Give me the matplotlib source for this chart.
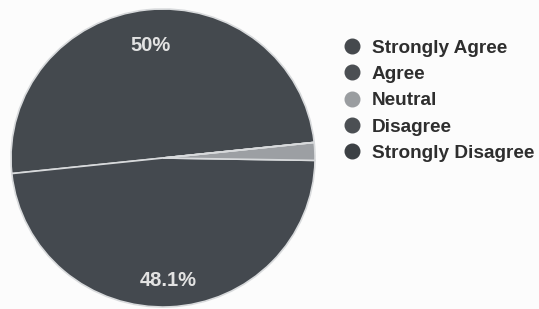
import matplotlib.pyplot as plt
import matplotlib.transforms as mtransforms
from matplotlib.lines import Line2D

# ---------------------------------------------------------
# Data: survey responses (counts)
# ---------------------------------------------------------
categories = ["Strongly Agree", "Agree", "Neutral", "Disagree", "Strongly Disagree"]
counts = [26, 25, 1, 0, 0]
slice_colors = ["#44494e", "#44494f", "#9c9fa3", "#4a4e52", "#3a3e42"]
legend_colors = ["#45494d", "#4b4f53", "#9a9da0", "#4b4f53", "#3c4044"]

plt.rcParams["font.family"] = ["Liberation Sans", "DejaVu Sans"]

W, H = 539, 309
fig = plt.figure(figsize=(W / 100, H / 100), dpi=100, facecolor="#fcfcfc")

# pie centre ~ (163, 158) px, radii ~ 152 x 149 px (scan is slightly squashed)
cx, cy, rx, ry = 163, 158, 152, 149
ax = fig.add_axes([(cx - rx) / W, (H - cy - ry) / H, 2 * rx / W, 2 * ry / H])


def pct_label(p):
    # small slices get no label, like the original
    return f"{p:.3g}%" if p >= 5 else ""


wedges, texts, autotexts = ax.pie(
    counts,
    colors=slice_colors,
    startangle=6,
    counterclock=True,
    autopct=pct_label,
    pctdistance=0.79,
    radius=1,
    wedgeprops=dict(edgecolor="#d8dadc", linewidth=1.2),
    textprops=dict(color="#e2e2e2", fontsize=14.5, fontweight="bold"),
)
# labels sit a few pixels lower in the scan
shift = mtransforms.ScaledTranslation(0, -5 / 100, fig.dpi_scale_trans)
for t in autotexts:
    t.set_transform(t.get_transform() + shift)

ax.set_xlim(-1, 1)
ax.set_ylim(-1, 1)
ax.set_aspect("auto")
ax.axis("off")

# Legend on the right
handles = [
    Line2D([0], [0], marker="o", color="none", markerfacecolor=c,
           markeredgecolor=c, markersize=10.5, label=lab)
    for lab, c in zip(categories, legend_colors)
]
fig.legend(
    handles=handles,
    loc="upper left",
    bbox_to_anchor=(343 / W, 1 - 39.5 / H),
    frameon=False,
    prop=dict(size=13.7, weight="bold"),
    handlelength=0.95,
    handletextpad=0.55,
    labelspacing=0.47,
    borderaxespad=0,
    borderpad=0,
    labelcolor="#2e2e2e",
)

fig.savefig("out.png", dpi=100, facecolor=fig.get_facecolor())
